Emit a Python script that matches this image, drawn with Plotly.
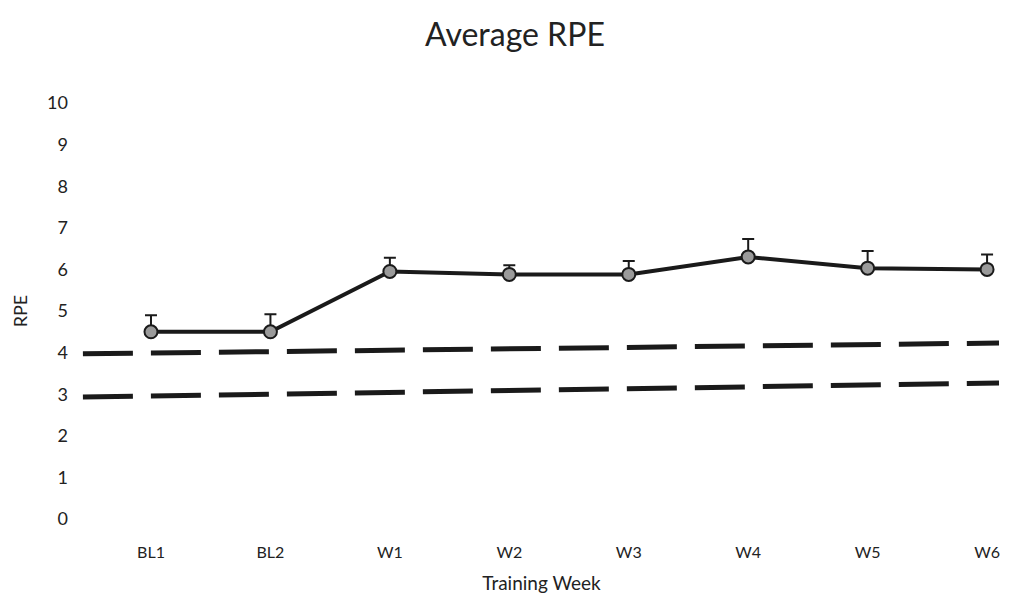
import plotly.graph_objects as go

categories = ["BL1", "BL2", "W1", "W2", "W3", "W4", "W5", "W6"]
rpe_mean = [4.5, 4.5, 5.95, 5.88, 5.88, 6.3, 6.03, 6.0]
rpe_err = [0.4, 0.42, 0.33, 0.22, 0.32, 0.43, 0.41, 0.36]

band_x = [-0.57, 7.1]
upper_band = [3.97, 4.23]
lower_band = [2.93, 3.27]

y_ticks = list(range(0, 11))

xpos = list(range(len(categories)))

fig = go.Figure()
for band in (upper_band, lower_band):
    fig.add_trace(go.Scatter(
        x=band_x, y=band, mode="lines",
        line=dict(color="#1a1a1a", width=5, dash="50px,18px"),
        showlegend=False, hoverinfo="skip"))

fig.add_trace(go.Scatter(
    x=xpos, y=rpe_mean, mode="lines+markers",
    line=dict(color="#1a1a1a", width=4),
    marker=dict(symbol="circle", size=13, color="#9a9a9a",
                line=dict(color="#1a1a1a", width=2)),
    error_y=dict(type="data", symmetric=False, array=rpe_err,
                 arrayminus=[0] * len(rpe_err), color="#1a1a1a",
                 thickness=2, width=6),
    showlegend=False))

font_family = "Lato, 'Open Sans', sans-serif"
fig.update_layout(
    width=994, height=586,
    paper_bgcolor="white", plot_bgcolor="white",
    margin=dict(l=73, r=0, t=95, b=75, autoexpand=False),
    font=dict(family=font_family, color="#222", size=16),
    title=dict(text="Average RPE", x=0.51, xanchor="center",
               y=0.955, yanchor="middle", yref="container",
               font=dict(size=32, family=font_family, color="#222")),
    xaxis=dict(range=[-0.586, 7.125], tickmode="array", tickvals=xpos,
               ticktext=categories, showgrid=False, zeroline=False,
               showline=False, ticks="", ticklabelstandoff=22,
               ticklabeloverflow="allow", automargin=False,
               tickfont=dict(size=16),
               title=dict(text="Training Week", font=dict(size=19), standoff=16)),
    yaxis=dict(range=[0, 10], tickmode="array", tickvals=y_ticks,
               showgrid=False, zeroline=False, showline=False, ticks="",
               ticklabelstandoff=12, tickfont=dict(size=18),
               title=dict(text="RPE", font=dict(size=18), standoff=14)),
)

fig.write_html("out.html")
